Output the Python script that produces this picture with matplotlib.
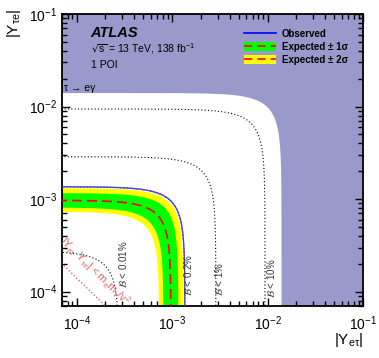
import numpy as np
import matplotlib
matplotlib.use("Agg")
import matplotlib.pyplot as plt
from matplotlib.patches import Patch
from matplotlib.lines import Line2D

plt.rcParams['font.family'] = ['Liberation Sans', 'DejaVu Sans']

# limits (radius in the |Y_et|-|Y_te| plane)
r_tau_egamma = 0.014
r_observed = 1.36e-3
r_expected = 9.7e-4
r_1sigma = [8.1e-4, 1.16e-3]
r_2sigma = [7.3e-4, 1.31e-3]
br_labels = ['0.01%', '0.2%', '1%', '10%']
br_radii = [2.75e-4, 1.36e-3, 2.87e-3, 9.4e-3]
natural_product = 1.4e-8   # |Y_et Y_te| < m_e m_tau / v^2

xlim = [7e-5, 0.1]
ylim = [7e-5, 0.1]


def arc(r):
    # quarter circle, sampled evenly in log(y/x)
    t = np.arctan(10 ** np.linspace(-6, 6, 3000))
    return r * np.cos(t), r * np.sin(t)


def annulus(ax, r_in, r_out, color):
    xo, yo = arc(r_out)
    xi, yi = arc(r_in)
    xs = np.concatenate([xo, xi[::-1]])
    ys = np.concatenate([yo, yi[::-1]])
    ax.fill(xs, ys, color=color, lw=0, zorder=2)


fig = plt.figure(figsize=(3.79, 3.58), dpi=100)
ax = fig.add_axes([62 / 379, 1 - 306 / 358, 301 / 379, 292 / 358])
ax.set_xscale('log')
ax.set_yscale('log')

# tau -> e gamma excluded region
xo, yo = arc(r_tau_egamma)
ax.fill(np.concatenate([xo, [1e-7, 1, 1]]), np.concatenate([yo, [1, 1, 1e-7]]),
        color='#9999cc', lw=0, zorder=1)

annulus(ax, r_2sigma[0], r_2sigma[1], '#ffff00')
annulus(ax, r_1sigma[0], r_1sigma[1], '#00ff00')

for r in br_radii:
    x, y = arc(r)
    ax.plot(x, y, color='black', lw=0.8, ls=(0, (1, 2)), zorder=3)

x, y = arc(r_expected)
ax.plot(x, y, color='#ff0000', lw=1.2, ls=(0, (6, 3)), zorder=4)
x, y = arc(r_observed)
ax.plot(x, y, color='#4444dd', lw=1.0, zorder=4)

xn = np.geomspace(1e-6, 1e-1, 200)
ax.plot(xn, natural_product / xn, color='#e06666', lw=1.0, ls=(0, (1, 1.5)), zorder=3)
ax.text(6.4e-5, 3.4e-4, r'$\mathregular{|Y_{e\tau}\ Y_{\tau e}| < m_e m_\tau / v^2}$',
        color='#e06666', fontsize=8, rotation=-44, rotation_mode='anchor',
        ha='left', va='baseline', clip_on=True, zorder=3)

# branching ratio labels
lab_pos = [(3.05e-4, 2.0e-4), (1.47e-3, 1.5e-4), (3.13e-3, 1.36e-4), (1.075e-2, 1.38e-4)]
for lab, (px, py) in zip(br_labels, lab_pos):
    ax.text(px, py, r'$\mathcal{B}$ < ' + lab, rotation=90, fontsize=7,
            color='#333333', ha='center', va='center', zorder=5)

ax.set_xlim(xlim)
ax.set_ylim(ylim)

ax.text(0.095, 0.935, 'ATLAS', transform=ax.transAxes, fontsize=10.5,
        fontweight='bold', fontstyle='italic', va='center')
ax.text(0.095, 0.88, r'$\mathregular{\sqrt{s}}$ = 13 TeV, 138 fb$\mathregular{^{-1}}$',
        transform=ax.transAxes, fontsize=7.5, va='center')
ax.text(0.095, 0.825, '1 POI', transform=ax.transAxes, fontsize=7.5, va='center')
ax.text(0.005, 0.745, 'τ → eγ', transform=ax.transAxes, fontsize=7.5, va='center')

handles = [
    Line2D([], [], color='#0000ff', lw=1.2),
    (Patch(facecolor='#00ff00', lw=0), Line2D([], [], color='#ff0000', lw=1.2, ls=(0, (5, 3)))),
    (Patch(facecolor='#ffff00', lw=0), Line2D([], [], color='#ff0000', lw=1.2, ls=(0, (5, 3)))),
]
labels = ['Observed', 'Expected ± 1σ', 'Expected ± 2σ']
leg = ax.legend(handles, labels, loc='upper left', bbox_to_anchor=(239 / 379, 1 - 24 / 358),
                bbox_transform=fig.transFigure, frameon=False, borderpad=0,
                handlelength=3.3, handleheight=1.0, handletextpad=0.6, labelspacing=0.3,
                prop={'weight': 'bold', 'size': 7})

ax.set_xlabel(r'$\mathregular{|Y_{e\tau}|}$', fontsize=11, loc='right')
ax.set_ylabel(r'$\mathregular{|Y_{\tau e}|}$', fontsize=11, loc='top')
ax.xaxis.set_label_coords(1.0, -0.085)
ax.yaxis.set_label_coords(-0.128, 1.02)

ax.tick_params(which='both', direction='in', top=True, right=True, labelsize=10, width=1)
ax.tick_params(which='major', length=6)
ax.tick_params(which='minor', length=3.5)
ax.tick_params(axis='x', pad=6)
for s in ax.spines.values():
    s.set_linewidth(1.3)

fig.savefig('out.png', dpi=100)
